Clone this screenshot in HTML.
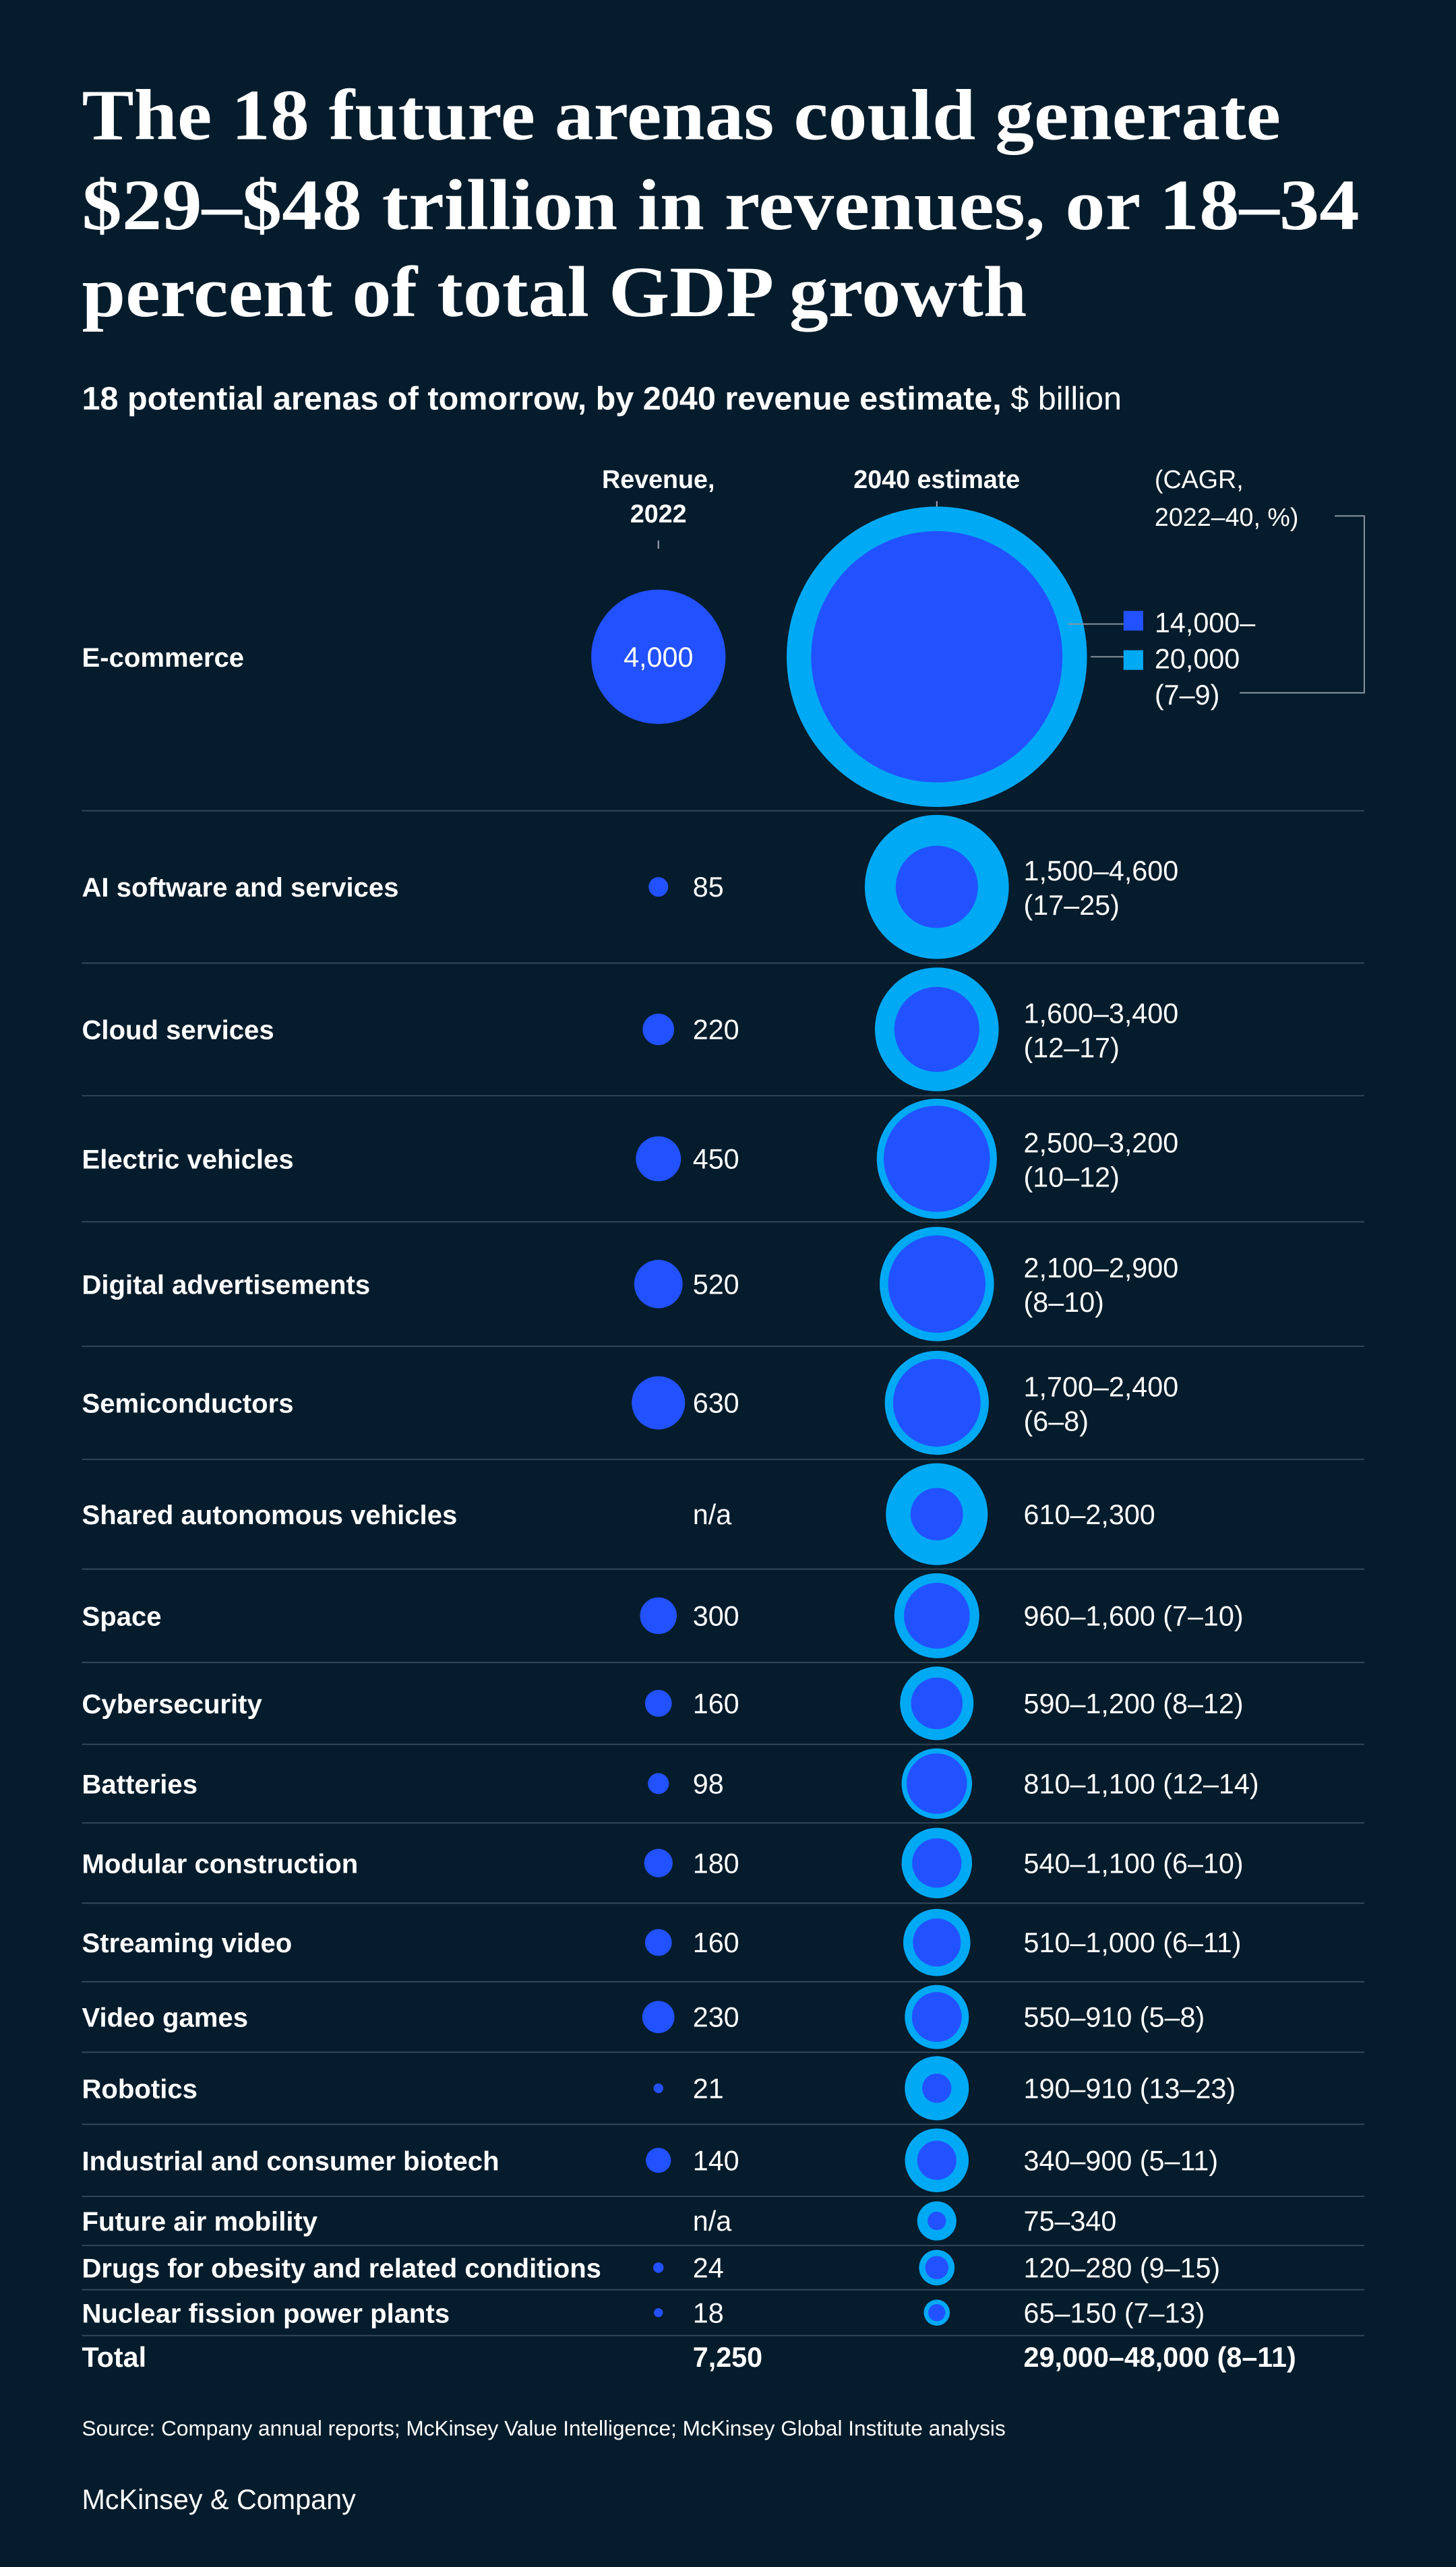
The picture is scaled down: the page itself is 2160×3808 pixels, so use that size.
<!DOCTYPE html>
<html><head><meta charset="utf-8"><style>
html,body{margin:0;padding:0;background:#051c2c;}
svg{display:block}
text{font-family:"Liberation Sans",sans-serif;fill:#fff}
</style></head><body>
<svg id="chart" width="2160" height="3808" viewBox="0 0 889 1567.3" xmlns="http://www.w3.org/2000/svg">
<rect width="889" height="1567.3" fill="#051c2c"/>
<g style="font-family:'Liberation Serif',serif;font-weight:bold;font-size:44px">
<text x="50" y="85" textLength="732" lengthAdjust="spacingAndGlyphs" style="font-family:'Liberation Serif',serif">The 18 future arenas could generate</text>
<text x="50" y="140" textLength="780" lengthAdjust="spacingAndGlyphs" style="font-family:'Liberation Serif',serif">$29–$48 trillion in revenues, or 18–34</text>
<text x="50" y="193" textLength="577" lengthAdjust="spacingAndGlyphs" style="font-family:'Liberation Serif',serif">percent of total GDP growth</text>
</g>
<text x="50" y="250" font-size="20"><tspan font-weight="bold">18 potential arenas of tomorrow, by 2040 revenue estimate,</tspan> $ billion</text>
<g font-size="15.5">
<text x="402" y="298" text-anchor="middle" font-weight="bold">Revenue,</text>
<text x="402" y="319" text-anchor="middle" font-weight="bold">2022</text>
<text x="572" y="298" text-anchor="middle" font-weight="bold">2040 estimate</text>
<text x="705" y="298">(CAGR,</text>
<text x="705" y="321">2022–40, %)</text>
<line x1="402" y1="330" x2="402" y2="335" stroke="#aab" stroke-width="0.8"/>
<line x1="572" y1="306" x2="572" y2="312" stroke="#aab" stroke-width="0.8"/>
</g>
<g id="rows"></g>
<g font-size="17">
<rect x="686" y="373" width="12" height="12" fill="#2251ff"/>
<rect x="686" y="397" width="12" height="12" fill="#00a9f4"/>
<text x="705" y="386">14,000–</text>
<text x="705" y="408">20,000</text>
<text x="705" y="430">(7–9)</text>
<polyline points="686,381 652,381" stroke="#8a97a3" stroke-width="0.8" fill="none"/>
<polyline points="686,401 666,401" stroke="#8a97a3" stroke-width="0.8" fill="none"/>
<polyline points="815,315 833,315 833,423 757,423" stroke="#8a97a3" stroke-width="0.8" fill="none"/>
</g>
<text x="50" y="1487" font-size="13">Source: Company annual reports; McKinsey Value Intelligence; McKinsey Global Institute analysis</text>
<text x="50" y="1532" font-size="17">McKinsey &amp; Company</text>
</svg>
<script>
const categories=["E-commerce","AI software and services","Cloud services","Electric vehicles","Digital advertisements","Semiconductors","Shared autonomous vehicles","Space","Cybersecurity","Batteries","Modular construction","Streaming video","Video games","Robotics","Industrial and consumer biotech","Future air mobility","Drugs for obesity and related conditions","Nuclear fission power plants"];
const revenue2022=[4000,85,220,450,520,630,null,300,160,98,180,160,230,21,140,null,24,18];
const estLow=[14000,1500,1600,2500,2100,1700,610,960,590,810,540,510,550,190,340,75,120,65];
const estHigh=[20000,4600,3400,3200,2900,2400,2300,1600,1200,1100,1100,1000,910,910,900,340,280,150];
const cagrLabels=["(7–9)","(17–25)","(12–17)","(10–12)","(8–10)","(6–8)","","(7–10)","(8–12)","(12–14)","(6–10)","(6–11)","(5–8)","(13–23)","(5–11)","","(9–15)","(7–13)"];
const twoLine=[false,true,true,true,true,true,false,false,false,false,false,false,false,false,false,false,false,false];
const totalRevenue="7,250", totalEstimate="29,000–48,000 (8–11)";
// layout: separator y positions (below each row)
const seps=[495,588,669,746,822,891,958,1015,1065,1113,1162,1210,1253,1297,1341,1371,1398,1426];
const NS="http://www.w3.org/2000/svg";
const g=document.getElementById('rows');
const r=v=>0.6483*Math.sqrt(v);
const fmt=v=>v.toLocaleString('en-US');
function mk(tag,attrs,parent){const e=document.createElementNS(NS,tag);for(const k in attrs)e.setAttribute(k,attrs[k]);parent.appendChild(e);return e;}
categories.forEach((c,i)=>{
  const top=i===0?311:seps[i-1];
  const cy=i===0?401:(top+seps[i])/2;
  const row=mk('g',{},g);
  
  
  const sep=mk('line',{x1:50,x2:833,y1:seps[i],y2:seps[i],stroke:'#34495a','stroke-width':0.8},row);
  
  
  const lab=mk('text',{x:50,y:cy+6,'font-size':16.5,'font-weight':'bold'},row);
  lab.textContent=c;
  
  
  const v=revenue2022[i];
  if(v!==null){
    const cc=mk('circle',{cx:402,cy:cy,r:r(v),fill:'#2251ff'},row);
    
    
  }
  if(i===0){
    const t=mk('text',{x:402,y:cy+6,'font-size':17,'text-anchor':'middle'},row);t.textContent=fmt(v);
    
    
  } else {
    const t=mk('text',{x:423,y:cy+6,'font-size':17},row);t.textContent=v===null?'n/a':fmt(v);
    
    
  }
  const o=mk('circle',{cx:572,cy:cy,r:r(estHigh[i]),fill:'#00a9f4'},row);
  
  
  const n=mk('circle',{cx:572,cy:cy,r:r(estLow[i]),fill:'#2251ff'},row);
  
  
  if(i>0){
    const range=fmt(estLow[i])+'–'+fmt(estHigh[i]);
    if(twoLine[i]){
      const t1=mk('text',{x:625,y:cy-4,'font-size':17},row);t1.textContent=range;
      
      
      const t2=mk('text',{x:625,y:cy+17,'font-size':17},row);t2.textContent=cagrLabels[i];
      
      
    } else {
      const t1=mk('text',{x:625,y:cy+6,'font-size':17},row);t1.textContent=range+(cagrLabels[i]?' '+cagrLabels[i]:'');
      
      
    }
  }
});
const tot=mk('g',{},g);


const ty=1445;
const a=mk('text',{x:50,y:ty,'font-size':17,'font-weight':'bold'},tot);a.textContent='Total';
const b=mk('text',{x:423,y:ty,'font-size':17,'font-weight':'bold'},tot);b.textContent=totalRevenue;
const d=mk('text',{x:625,y:ty,'font-size':17,'font-weight':'bold'},tot);d.textContent=totalEstimate;
</script>
</body></html>
